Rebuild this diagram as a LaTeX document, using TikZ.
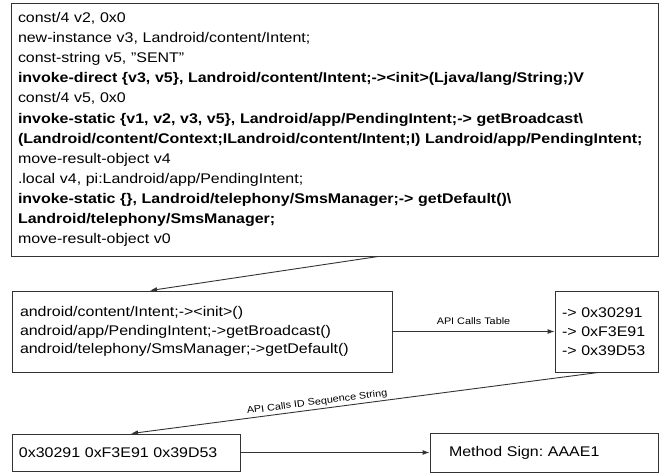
\documentclass[tikz,border=0pt]{standalone}
\usepackage{fontspec}
\setmainfont{Liberation Sans}[FakeStretch=1.14]
\usetikzlibrary{arrows.meta}
\frenchspacing

\begin{document}
\begin{tikzpicture}[x=1pt, y=-1pt,
		box/.style={draw=black!80, line width=0.9pt, align=left, inner xsep=7pt, font=\fontsize{14}{18.8}\selectfont},
		arr/.style={draw=black!80, line width=0.9pt, -{Latex[length=7pt,width=5pt]}},
		lbl/.style={font=\fontsize{9.5}{10}\selectfont, inner sep=2pt}]
		
		\useasboundingbox (0,0) rectangle (661,474);
		
		\node [box, minimum width=647pt, minimum height=253pt, text width=633pt, font=\fontsize{14}{20.1}\selectfont] (code) at (334.5,129.5) {const/4 v2, 0x0\\
			new-instance v3, Landroid/content/Intent;\\
			const-string v5, "SENT"\\
			\textbf{invoke-direct \{v3, v5\}, Landroid/content/Intent;-><init>(Ljava/lang/String;)V}\\
			const/4 v5, 0x0\\
			\textbf{invoke-static \{v1, v2, v3, v5\}, Landroid/app/PendingIntent;-> getBroadcast\textbackslash}\\
			\textbf{(Landroid/content/Context;ILandroid/content/Intent;I) Landroid/app/PendingIntent;}\\
			move-result-object v4\\
			.local v4, pi:Landroid/app/PendingIntent;\\
			\textbf{invoke-static \{\}, Landroid/telephony/SmsManager;-> getDefault()\textbackslash}\\
			\textbf{Landroid/telephony/SmsManager;}\\
			move-result-object v0};
		
		\node [box, minimum width=380pt, minimum height=81pt, text width=364pt, inner xsep=8pt] (apis) at (202,331.5) {android/content/Intent;-><init>()\\
			android/app/PendingIntent;->getBroadcast()\\
			android/telephony/SmsManager;->getDefault()};
		
		\node [box, minimum width=103pt, minimum height=81pt, text width=89pt] (ids) at (606.5,331.5) {-> 0x30291\\-> 0xF3E91\\-> 0x39D53};
		
		\node [box, minimum width=228pt, minimum height=37pt, text width=214pt] (seq) at (126,452.5) {0x30291 0xF3E91 0x39D53};
		
		\node [box, minimum width=228pt, minimum height=39pt, text width=190pt, inner xsep=19pt] (sign) at (544,452.5) {Method Sign: AAAE1};
		
		\draw [arr] ([xshift=44pt]code.south) -- ([xshift=-52pt]apis.north);
		\draw [arr] (apis.east) -- node[lbl, above=4pt] {API Calls Table} (ids.west);
		\draw [arr] ([xshift=-8pt]ids.south) -- node[lbl, sloped, above, pos=0.6] {API Calls ID Sequence String} ([xshift=5pt]seq.north);
		\draw [arr] (seq.east) -- (sign.west);
		
	\end{tikzpicture}
\end{document}
